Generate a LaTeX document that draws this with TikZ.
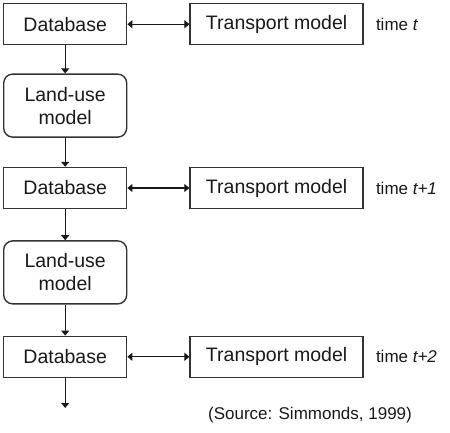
\documentclass[tikz,border=0pt]{standalone}
\usepackage{fontspec}
\setmainfont{Liberation Sans}
\usetikzlibrary{arrows.meta,positioning}

\begin{document}
\begin{tikzpicture}[
    x=1pt, y=1pt,
    node distance=29pt,
    dbbox/.style={rectangle, draw=black!80, line width=1.4pt, text=black!90, minimum width=123pt, minimum height=41pt, inner sep=0pt, font=\fontsize{19.5}{23}\selectfont},
    trbox/.style={dbbox, minimum width=173pt},
    lubox/.style={dbbox, rounded corners=9pt, minimum height=63pt, align=center},
    timelbl/.style={text=black!90, inner sep=0pt, font=\fontsize{17}{20}\selectfont},
    arrow/.style={-{Triangle[length=5pt,width=8pt]}, line width=1.1pt, draw=black!90},
    dblarrow/.style={{Triangle[length=5pt,width=8pt]}-{Triangle[length=5pt,width=8pt]}, line width=1.1pt, draw=black!90}
]
\useasboundingbox (0,0) rectangle (450,-432);

\node[dbbox, anchor=north west] (db1) at (3,-3) {Database};
\node[lubox, below=28pt of db1] (lu1) {Land-use\\model};
\node[dbbox, below=of lu1] (db2) {Database};
\node[lubox, below=31pt of db2] (lu2) {Land-use\\model};
\node[dbbox, below=31pt of lu2] (db3) {Database};
\coordinate[below=30pt of db3] (out);

\node[trbox, right=62pt of db1] (tr1) {Transport model};
\node[trbox, right=62pt of db2] (tr2) {Transport model};
\node[trbox, right=62pt of db3] (tr3) {Transport model};

\node[timelbl, right=12pt of tr1] (t1) {time \textit{t}};
\node[timelbl, right=12pt of tr2] (t2) {time \textit{t+1}};
\node[timelbl, right=12pt of tr3] (t3) {time \textit{t+2}};

\node[timelbl] (src) at (310,-415) {(Source: Simmonds, 1999)};

\draw[dblarrow] (db1) -- (tr1);
\draw[dblarrow] (db2) -- (tr2);
\draw[dblarrow] (db3) -- (tr3);
\draw[arrow] (db1) -- (lu1);
\draw[arrow] (lu1) -- (db2);
\draw[arrow] (db2) -- (lu2);
\draw[arrow] (lu2) -- (db3);
\draw[arrow] (db3) -- (out);
\end{tikzpicture}
\end{document}
